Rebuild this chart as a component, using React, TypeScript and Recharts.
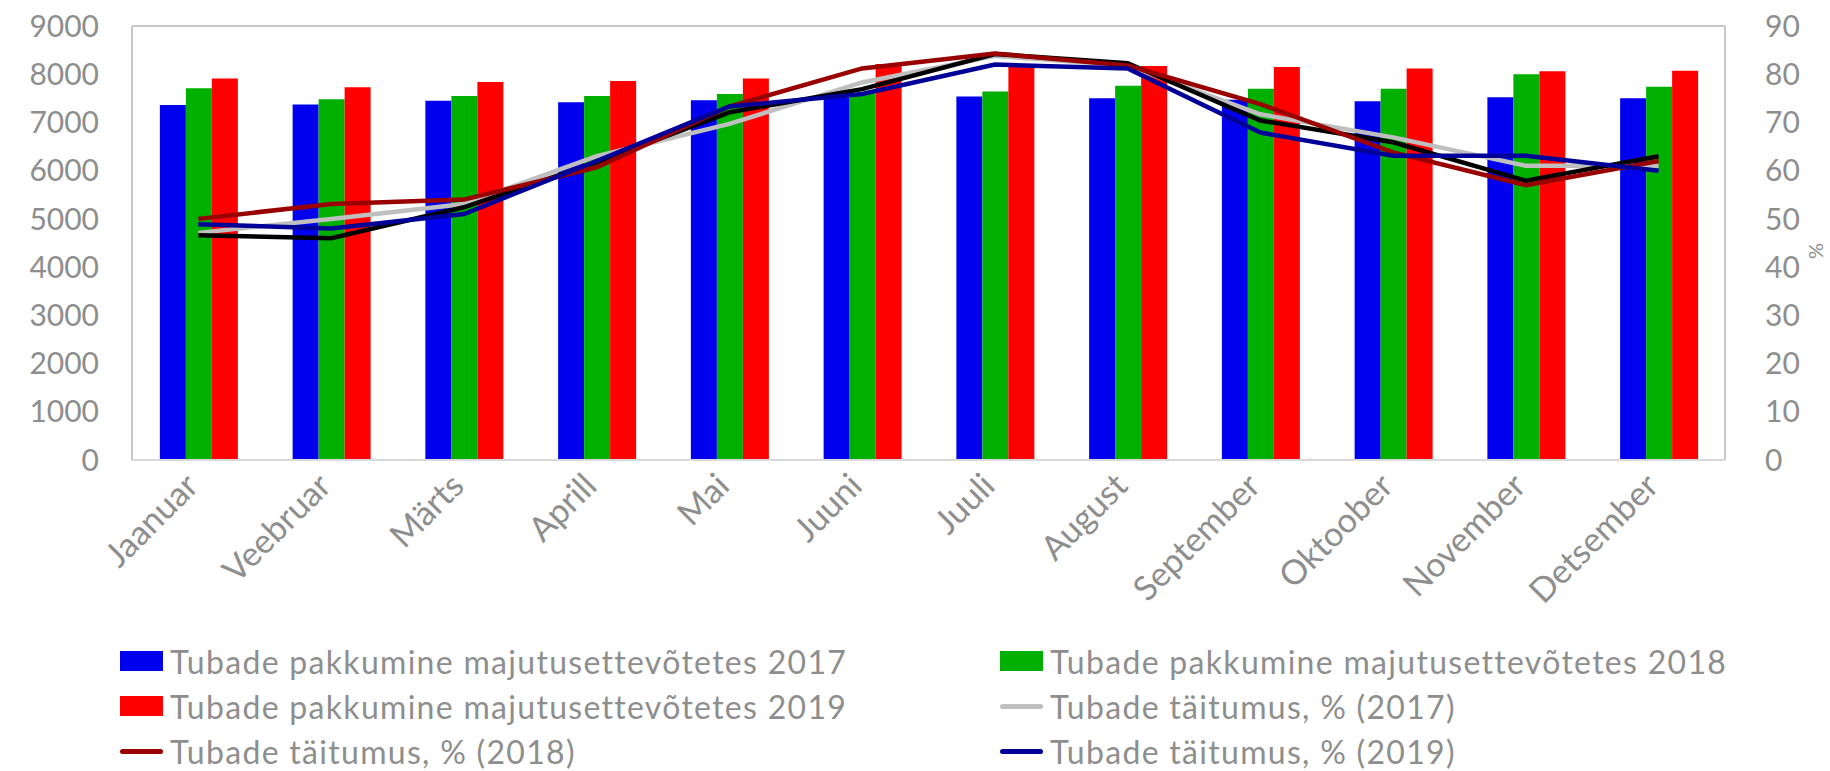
import { Bar, CartesianGrid, ComposedChart, Legend, Line, ReferenceLine, XAxis, YAxis } from "recharts";

const months = [
  "Jaanuar", "Veebruar", "Märts", "Aprill", "Mai", "Juuni",
  "Juuli", "August", "September", "Oktoober", "November", "Detsember",
];

// tubade pakkumine (rooms offered)
const rooms2017 = [7360, 7370, 7450, 7420, 7460, 7520, 7540, 7500, 7470, 7440, 7520, 7500];
const rooms2018 = [7710, 7480, 7550, 7550, 7590, 7600, 7640, 7760, 7700, 7700, 8000, 7740];
const rooms2019 = [7910, 7730, 7840, 7860, 7910, 8210, 8150, 8170, 8150, 8120, 8060, 8070];

// tubade täitumus, %
const occ2017 = [47.1, 50.0, 53.1, 63.0, 69.7, 78.3, 83.8, 81.8, 71.7, 66.9, 61.0, 61.0];
const occ2018 = [50.0, 53.1, 54.0, 60.7, 73.3, 81.2, 84.3, 81.8, 73.8, 63.8, 57.0, 62.0];
const occ2019 = [48.9, 48.0, 51.0, 62.0, 73.3, 75.9, 82.0, 81.2, 67.9, 63.1, 63.1, 60.0];
const occOther = [46.6, 46.0, 52.4, 61.7, 72.1, 76.9, 84.2, 82.3, 70.4, 65.9, 57.9, 63.0];

const leftTicks = [0, 1000, 2000, 3000, 4000, 5000, 6000, 7000, 8000, 9000];
const rightTicks = [0, 10, 20, 30, 40, 50, 60, 70, 80, 90];

const legendItems = [
  { label: "Tubade pakkumine majutusettevõtetes 2017", color: "#0000ee", kind: "bar" },
  { label: "Tubade pakkumine majutusettevõtetes 2018", color: "#00b000", kind: "bar" },
  { label: "Tubade pakkumine majutusettevõtetes 2019", color: "#ff0000", kind: "bar" },
  { label: "Tubade täitumus, % (2017)", color: "#bfbfbf", kind: "line" },
  { label: "Tubade täitumus, % (2018)", color: "#990000", kind: "line" },
  { label: "Tubade täitumus, % (2019)", color: "#000099", kind: "line" },
];

const data = months.map((m, i) => ({
  month: m,
  r2017: rooms2017[i],
  r2018: rooms2018[i],
  r2019: rooms2019[i],
  o2017: occ2017[i],
  o2018: occ2018[i],
  o2019: occ2019[i],
  oOther: occOther[i],
}));

const FONT = "Lato, 'Open Sans', sans-serif";
const TEXT = "#8e8e8e";

function MonthTick({ x, y, payload }: any) {
  return (
    <g transform={`translate(${x + 2},${y + 20})`}>
      <text transform="rotate(-45)" textAnchor="end" fill={TEXT} fontSize={34} fontFamily={FONT}>
        {payload.value}
      </text>
    </g>
  );
}

function ChartLegend() {
  return (
    <div style={{ position: "relative", width: 1830, height: 150, fontFamily: FONT }}>
      {legendItems.map((item, i) => {
        const col = i % 2;
        const row = Math.floor(i / 2);
        return (
          <div
            key={item.label}
            style={{
              position: "absolute",
              left: col === 0 ? 120 : 1000,
              top: 40 + row * 45 - 20,
              height: 40,
              display: "flex",
              alignItems: "center",
              color: TEXT,
              fontSize: 32,
              letterSpacing: 1.3,
              whiteSpace: "nowrap",
            }}
          >
            <span
              style={{
                display: "inline-block",
                width: 43,
                height: item.kind === "bar" ? 20 : 5,
                borderRadius: item.kind === "bar" ? 0 : 3,
                background: item.color,
                marginRight: 7,
              }}
            />
            {item.label}
          </div>
        );
      })}
    </div>
  );
}

export default function App() {
  return (
    <div style={{ position: "fixed", left: 0, top: 0, width: 1830, height: 771, background: "#fff" }}>
      <ComposedChart
        width={1830}
        height={771}
        data={data}
        margin={{ top: 26, right: 0, bottom: 0, left: 0 }}
        barCategoryGap="21%"
        barGap={0}
      >
        <CartesianGrid vertical={false} stroke="#dcdcdc" strokeWidth={2} />
        <XAxis
          dataKey="month"
          height={161}
          interval={0}
          tick={<MonthTick />}
          tickLine={false}
          axisLine={{ stroke: "#d9d9d9", strokeWidth: 2 }}
        />
        <YAxis
          yAxisId="left"
          width={132}
          domain={[0, 9000]}
          ticks={leftTicks}
          tickLine={false}
          tickMargin={27}
          axisLine={{ stroke: "#c8c8c8", strokeWidth: 2 }}
          tick={{ fill: TEXT, fontSize: 30, fontFamily: FONT }}
        />
        <YAxis
          yAxisId="right"
          orientation="right"
          width={105}
          domain={[0, 90]}
          ticks={rightTicks}
          tickLine={false}
          tickMargin={34}
          axisLine={{ stroke: "#c8c8c8", strokeWidth: 2 }}
          tick={{ fill: TEXT, fontSize: 30, fontFamily: FONT, textAnchor: "start" }}
          label={{
            value: "%",
            angle: -90,
            position: "insideRight",
            offset: 14,
            fill: TEXT,
            fontSize: 20,
            fontFamily: FONT,
          }}
        />
        <ReferenceLine yAxisId="left" y={9000} stroke="#c8c8c8" strokeWidth={2} />
        <Bar yAxisId="left" dataKey="r2017" fill="#0000ee" isAnimationActive={false} />
        <Bar yAxisId="left" dataKey="r2018" fill="#00b000" isAnimationActive={false} />
        <Bar yAxisId="left" dataKey="r2019" fill="#ff0000" isAnimationActive={false} />
        <Line yAxisId="right" dataKey="o2017" stroke="#bfbfbf" strokeWidth={4.5} dot={false} isAnimationActive={false} />
        <Line yAxisId="right" dataKey="oOther" stroke="#000000" strokeWidth={4.5} dot={false} legendType="none" isAnimationActive={false} />
        <Line yAxisId="right" dataKey="o2018" stroke="#990000" strokeWidth={4.5} dot={false} isAnimationActive={false} />
        <Line yAxisId="right" dataKey="o2019" stroke="#000099" strokeWidth={4.5} dot={false} isAnimationActive={false} />
        <Legend
          verticalAlign="bottom"
          content={() => <ChartLegend />}
          wrapperStyle={{ left: 0, bottom: 0, width: 1830, height: 150 }}
        />
      </ComposedChart>
    </div>
  );
}
